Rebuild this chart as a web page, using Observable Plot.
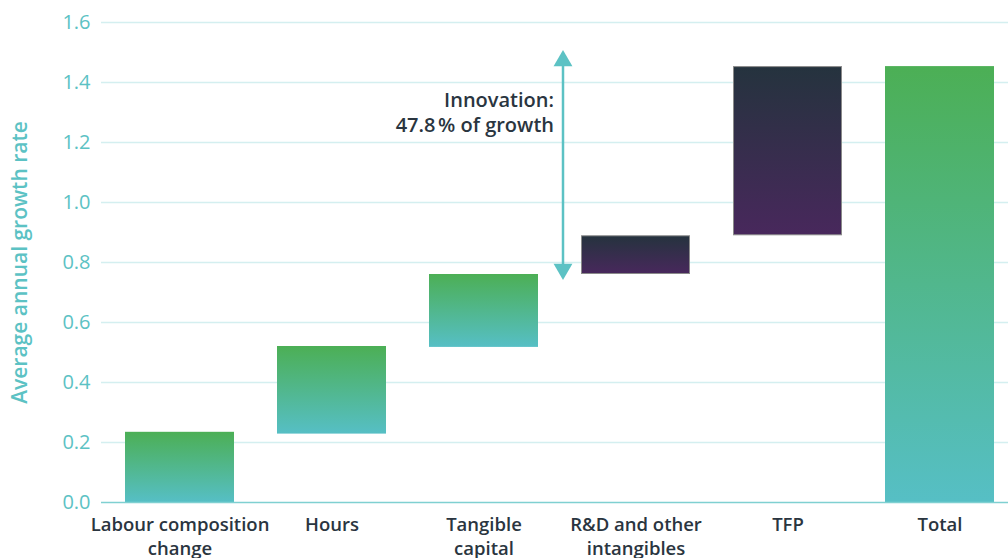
<!DOCTYPE html>
<html>
<head>
<meta charset="utf-8">
<script src="https://cdn.jsdelivr.net/npm/d3@7"></script>
<script src="https://cdn.jsdelivr.net/npm/@observablehq/plot@0.6"></script>
<style>
  html, body { margin: 0; padding: 0; background: #fff; }
  body { width: 1008px; height: 558px; overflow: hidden; font-family: "Open Sans", sans-serif; }
</style>
</head>
<body>
<div id="chart"></div>
<script>
const categories = ["Labour composition change", "Hours", "Tangible capital", "R&D and other intangibles", "TFP", "Total"];
const tickLabels = ["Labour composition\nchange", "Hours", "Tangible\ncapital", "R&D and other\nintangibles", "TFP", "Total"];
const startValues = [0, 0.228, 0.517, 0.76, 0.889, 0];
const endValues = [0.234, 0.52, 0.76, 0.889, 1.453, 1.453];
const groups = ["input", "input", "input", "innovation", "innovation", "total"];
const yTicks = [0, 0.2, 0.4, 0.6, 0.8, 1.0, 1.2, 1.4, 1.6];
const annotationText = "Innovation:\n47.8\u202F% of growth";
const arrowFrom = 0.75;
const arrowTo = 1.5;
const arrowCategory = "Tangible capital";

const data = categories.map((c, i) => ({category: c, y1: startValues[i], y2: endValues[i], group: groups[i]}));

const defs = () => {
  const d = d3.create("svg:defs");
  const g1 = d.append("linearGradient").attr("id", "gGreen").attr("x1", 0).attr("x2", 0).attr("y1", 0).attr("y2", 1);
  g1.append("stop").attr("offset", "0%").attr("stop-color", "#4caf55");
  g1.append("stop").attr("offset", "100%").attr("stop-color", "#56bfc5");
  const g2 = d.append("linearGradient").attr("id", "gDark").attr("x1", 0).attr("x2", 0).attr("y1", 0).attr("y2", 1);
  g2.append("stop").attr("offset", "0%").attr("stop-color", "#25333e");
  g2.append("stop").attr("offset", "100%").attr("stop-color", "#48285c");
  return d.node();
};

const chart = Plot.plot({
  width: 1008,
  height: 558,
  marginTop: 22,
  marginBottom: 56,
  marginLeft: 101,
  marginRight: -10,
  style: {fontFamily: "'Open Sans', sans-serif", background: "#fff"},
  x: {domain: categories, paddingInner: 0.28, paddingOuter: 0.14},
  y: {domain: [0, 1.6]},
  marks: [
    defs,
    Plot.ruleY(yTicks.filter(t => t > 0), {stroke: "#d4eff0", strokeWidth: 1.5}),
    Plot.axisY({
      ticks: yTicks, tickSize: 0, tickPadding: 11, fontSize: 20, fill: "#5cc2c4",
      tickFormat: d3.format(".1f"),
      label: "Average annual growth rate", labelAnchor: "center", labelArrow: "none", labelOffset: 89
    }),
    Plot.axisX({
      tickSize: 0, tickPadding: 11, fontSize: 18.5, fontWeight: 600, fill: "#2a3540", lineHeight: 1.3,
      tickFormat: d => tickLabels[categories.indexOf(d)], label: null
    }),
    Plot.barY(data.filter(d => d.group !== "innovation"), {x: "category", y1: "y1", y2: "y2", fill: "url(#gGreen)"}),
    Plot.barY(data.filter(d => d.group === "innovation"), {x: "category", y1: "y1", y2: "y2", fill: "url(#gDark)", stroke: "#8a8a8a", strokeWidth: 1, inset: 0.5}),
    Plot.ruleY([0], {stroke: "#7fd0d1", strokeWidth: 1.5}),
    Plot.ruleX([arrowCategory], {y1: arrowFrom + 0.03, y2: arrowTo - 0.03, stroke: "#5cc2c4", strokeWidth: 2.5, dx: 79}),
    Plot.dot([arrowCategory], {x: d => d, y: [arrowTo - 0.028], symbol: "triangle", r: 7, fill: "#5cc2c4", dx: 79}),
    Plot.dot([arrowCategory], {x: d => d, y: [arrowFrom + 0.028], symbol: "triangle", r: 7, rotate: 180, fill: "#5cc2c4", dx: 79}),
    Plot.text([annotationText], {x: [arrowCategory], y: [1.302], text: d => d, textAnchor: "end", dx: 70, fontSize: 20, fontWeight: 600, fill: "#2a3540", lineHeight: 1.25})
  ]
});
document.getElementById("chart").append(chart);
d3.select(chart).selectAll("[aria-label='y-axis label'] text")
  .style("font-size", "21px").style("font-weight", "600");
</script>
</body>
</html>
